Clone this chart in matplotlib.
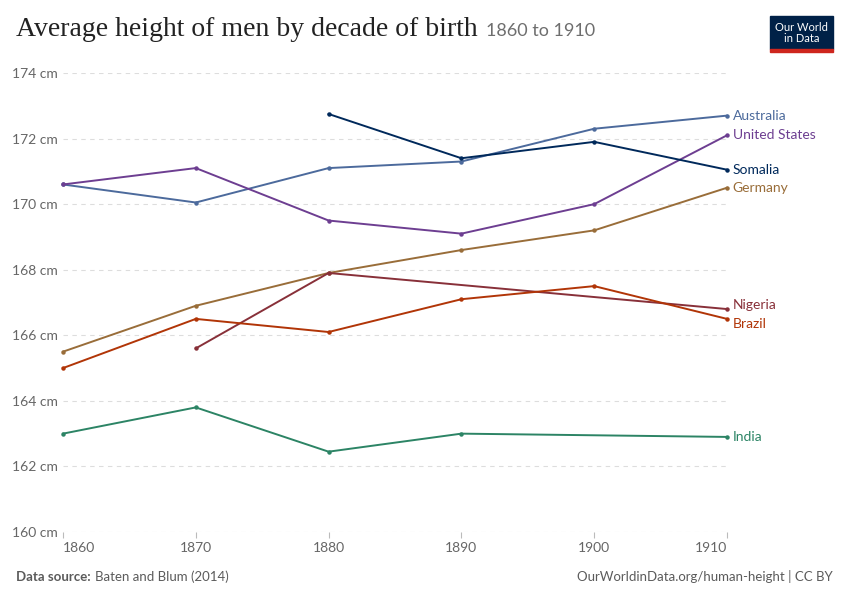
import matplotlib.pyplot as plt
import numpy as np
from matplotlib.patches import Rectangle

# Average height of men by decade of birth (cm)
decades = [1860, 1870, 1880, 1890, 1900, 1910]
nan = np.nan
australia = [170.6, 170.05, 171.1, 171.3, 172.3, 172.7]
united_states = [170.6, 171.1, 169.5, 169.1, 170.0, 172.1]
somalia = [nan, nan, 172.75, 171.4, 171.9, 171.05]
germany = [165.5, 166.9, 167.9, 168.6, 169.2, 170.5]
nigeria = [nan, 165.6, 167.9, nan, nan, 166.8]
brazil = [165.0, 166.5, 166.1, 167.1, 167.5, 166.5]
india = [163.0, 163.8, 162.45, 163.0, nan, 162.9]

series = [
    ("Australia", australia, "#4C6A9C", 0),
    ("United States", united_states, "#6D3E91", 0),
    ("Somalia", somalia, "#00295B", 0),
    ("Germany", germany, "#996D39", 0),
    ("Nigeria", nigeria, "#883039", 3),
    ("Brazil", brazil, "#B13507", -3.5),
    ("India", india, "#2C8465", 0),
]

plt.rcParams["font.family"] = ["Lato", "DejaVu Sans"]

fig = plt.figure(figsize=(8.5, 6), dpi=100)
ax = fig.add_axes([63 / 850, 1 - 532 / 600, (727 - 63) / 850, (532 - 73) / 600])

x = np.array(decades)
for name, vals, color, dy in series:
    y = np.array(vals, dtype=float)
    ok = ~np.isnan(y)
    ax.plot(x[ok], y[ok], color=color, lw=1.4, marker="o", ms=2.2, zorder=3, clip_on=False)
    ax.annotate(name, (x[ok][-1], y[ok][-1]), xytext=(4, dy), textcoords="offset points",
                color=color, fontsize=10, va="center", ha="left", annotation_clip=False)

ax.set_xlim(1860, 1910)
ax.set_ylim(160, 174)
ax.set_yticks(range(160, 175, 2))
ax.set_yticklabels([f"{v} cm" for v in range(160, 175, 2)])
ax.set_xticks(decades)
ax.set_xticklabels([str(d) for d in decades])
ax.grid(axis="y", color="#dddddd", ls=(0, (4, 4)), lw=0.8)
ax.set_axisbelow(True)
for s in ax.spines.values():
    s.set_visible(False)
ax.tick_params(axis="y", length=0, pad=4, labelsize=10, labelcolor="#666666")
ax.tick_params(axis="x", length=4, color="#bbbbbb", pad=3, labelsize=10, labelcolor="#666666")

fig.canvas.draw()
r = fig.canvas.get_renderer()
ticks = ax.xaxis.get_major_ticks()
ticks[0].label1.set_horizontalalignment("left")
ticks[-1].label1.set_horizontalalignment("right")

# title and subtitle
title = fig.text(16 / 850, 1 - 36 / 600, "Average height of men by decade of birth",
                 fontsize=20, family=["Liberation Serif", "DejaVu Serif"], color="#222222",
                 va="baseline", ha="left")
tb = title.get_window_extent(r)
fig.text((tb.x1 + 8) / 850, 1 - 36 / 600, "1860 to 1910", fontsize=13, color="#6e6e6e",
         va="baseline", ha="left")

# logo
fig.patches.append(Rectangle((770 / 850, 1 - 49 / 600), 63 / 850, 33 / 600,
                             transform=fig.transFigure, color="#002147"))
fig.patches.append(Rectangle((770 / 850, 1 - 52 / 600), 63 / 850, 3 / 600,
                             transform=fig.transFigure, color="#CE261E"))
fig.text(801.5 / 850, 1 - 33 / 600, "Our World\nin Data", color="white", fontsize=8,
         ha="center", va="center", linespacing=1.05)

# footer
src = fig.text(16 / 850, 1 - 581 / 600, "Data source:", fontsize=9.5, weight="bold",
               color="#5b5b5b", va="baseline")
sb = src.get_window_extent(r)
fig.text((sb.x1 + 4) / 850, 1 - 581 / 600, "Baten and Blum (2014)", fontsize=9.5,
         color="#5b5b5b", va="baseline")
fig.text(833 / 850, 1 - 581 / 600, "OurWorldinData.org/human-height | CC BY",
         fontsize=9.5, color="#5b5b5b", va="baseline", ha="right")

fig.savefig("out.png", dpi=100)
